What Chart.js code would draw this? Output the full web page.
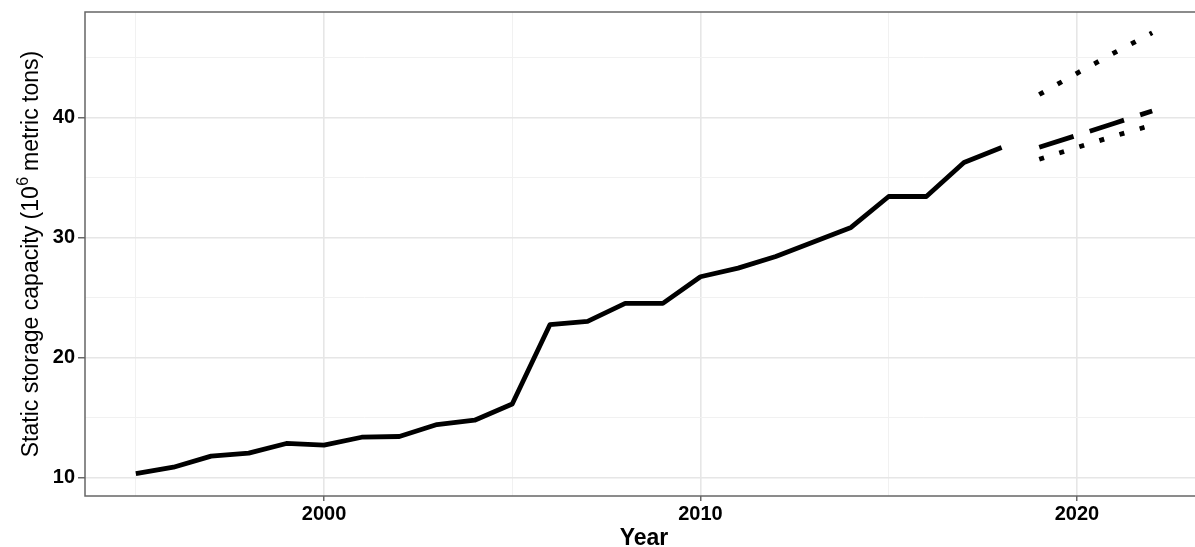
<!DOCTYPE html>
<html>
<head>
<meta charset="utf-8">
<script src="https://cdn.jsdelivr.net/npm/chart.js@4/dist/chart.umd.min.js"></script>
<style>
  html, body { margin: 0; padding: 0; background: #fff; overflow: hidden; }
  #wrap { width: 1195px; height: 547px; overflow: hidden; position: relative; }
  canvas { display: block; }
</style>
</head>
<body>
<div id="wrap"><canvas id="c" width="1210" height="547"></canvas></div>
<script>
// Observed static storage capacity, 10^6 metric tons
const obsYears = [1995, 1996, 1997, 1998, 1999, 2000, 2001, 2002, 2003, 2004, 2005, 2006,
                  2007, 2008, 2009, 2010, 2011, 2012, 2013, 2014, 2015, 2016, 2017, 2018];
const obsValues = [10.35, 10.88, 11.80, 12.05, 12.86, 12.72, 13.38, 13.44, 14.44, 14.80, 16.15, 22.76,
                   23.04, 24.54, 24.54, 26.76, 27.48, 28.45, 29.65, 30.87, 33.45, 33.45, 36.28, 37.53];

// Projection with upper and lower bounds
const projYears = [2019, 2020, 2021, 2022];
const projMid  = [37.55, 38.55, 39.56, 40.58];
const projHigh = [41.95, 43.72, 45.44, 47.10];
const projLow  = [36.55, 37.53, 38.50, 39.40];

// Axis breaks
const xBreaks = [1995, 2000, 2005, 2010, 2015, 2020];
const yBreaks = [10, 15, 20, 25, 30, 35, 40, 45];
const xMajor = [2000, 2010, 2020];
const yMajor = [10, 20, 30, 40];

const FONT = '"Liberation Sans", Arial, Helvetica, sans-serif';

const pts = (xs, ys) => xs.map((x, i) => ({ x: x, y: ys[i] }));

const lineBase = {
  borderColor: '#000',
  borderWidth: 4.8,
  pointRadius: 0,
  pointHoverRadius: 0,
  tension: 0,
  fill: false,
  borderCapStyle: 'butt',
  borderJoinStyle: 'round'
};

const isMajorX = v => xMajor.includes(v);
const isMajorY = v => yMajor.includes(v);

// Panel frame and axis titles
const decor = {
  id: 'decor',
  afterDatasetsDraw(chart) {
    const { ctx, chartArea: a } = chart;
    ctx.save();
    ctx.strokeStyle = '#666';
    ctx.lineWidth = 1.5;
    ctx.strokeRect(a.left, a.top, a.right - a.left, a.bottom - a.top);
    ctx.restore();
  },
  afterDraw(chart) {
    const { ctx, chartArea: a } = chart;
    // x title
    ctx.save();
    ctx.fillStyle = '#000';
    ctx.font = 'bold 23px ' + FONT;
    ctx.textAlign = 'center';
    ctx.textBaseline = 'alphabetic';
    ctx.fillText('Year', (a.left + a.right) / 2, 545);
    ctx.restore();

    // y title with superscript exponent
    const big = '23px ' + FONT;
    const small = '16px ' + FONT;
    const p1 = 'Static storage capacity (10';
    const p2 = '6';
    const p3 = ' metric tons)';
    ctx.save();
    ctx.fillStyle = '#000';
    ctx.textBaseline = 'alphabetic';
    ctx.textAlign = 'left';
    ctx.font = big;
    const w1 = ctx.measureText(p1).width;
    const w3 = ctx.measureText(p3).width;
    ctx.font = small;
    const w2 = ctx.measureText(p2).width;
    const total = w1 + w2 + w3;
    ctx.translate(37.5, (a.top + a.bottom) / 2);
    ctx.rotate(-Math.PI / 2);
    let x = -total / 2;
    ctx.font = big;
    ctx.fillText(p1, x, 0);
    x += w1;
    ctx.font = small;
    ctx.fillText(p2, x + 0.5, -10);
    x += w2;
    ctx.font = big;
    ctx.fillText(p3, x, 0);
    ctx.restore();
  }
};

new Chart(document.getElementById('c'), {
  type: 'line',
  data: {
    datasets: [
      Object.assign({ label: 'High', data: pts(projYears, projHigh), borderDash: [5, 16] }, lineBase),
      Object.assign({ label: 'Low', data: pts(projYears, projLow), borderDash: [5, 16] }, lineBase),
      Object.assign({ label: 'Projected', data: pts(projYears, projMid), borderDash: [36, 17] }, lineBase),
      Object.assign({ label: 'Observed', data: pts(obsYears, obsValues) }, lineBase)
    ]
  },
  options: {
    responsive: false,
    animation: false,
    events: [],
    layout: { padding: { left: 0, top: 12, right: 7, bottom: 0 } },
    plugins: {
      legend: { display: false },
      tooltip: { enabled: false },
      title: { display: false }
    },
    scales: {
      x: {
        type: 'linear',
        min: 1993.65,
        max: 2023.35,
        afterFit(scale) {
          scale.height = 51;
          scale.paddingLeft = 0;
          scale.paddingRight = 0;
        },
        afterBuildTicks(scale) { scale.ticks = xBreaks.map(v => ({ value: v })); },
        border: { display: false },
        grid: {
          drawTicks: true,
          tickLength: 5,
          color: ctx => isMajorX(ctx.tick.value) ? '#e6e6e6' : '#f1f1f1',
          lineWidth: ctx => isMajorX(ctx.tick.value) ? 1.6 : 1,
          tickColor: ctx => isMajorX(ctx.tick.value) ? '#444' : 'rgba(0,0,0,0)',
          tickWidth: 1.2
        },
        ticks: {
          autoSkip: false,
          maxRotation: 0,
          padding: 1,
          color: '#000',
          font: { family: FONT, size: 20, weight: 'bold' },
          callback: v => isMajorX(v) ? String(v) : ''
        }
      },
      y: {
        type: 'linear',
        min: 8.48,
        max: 48.83,
        afterFit(scale) {
          scale.width = 85;
          scale.paddingTop = 0;
          scale.paddingBottom = 0;
        },
        afterBuildTicks(scale) { scale.ticks = yBreaks.map(v => ({ value: v })); },
        border: { display: false },
        grid: {
          drawTicks: true,
          tickLength: 7,
          color: ctx => isMajorY(ctx.tick.value) ? '#e6e6e6' : '#f1f1f1',
          lineWidth: ctx => isMajorY(ctx.tick.value) ? 1.6 : 1,
          tickColor: ctx => isMajorY(ctx.tick.value) ? '#444' : 'rgba(0,0,0,0)',
          tickWidth: 1.2
        },
        ticks: {
          autoSkip: false,
          padding: 3,
          color: '#000',
          font: { family: FONT, size: 20, weight: 'bold' },
          callback: v => isMajorY(v) ? String(v) : ''
        }
      }
    }
  },
  plugins: [decor]
});
</script>
</body>
</html>
